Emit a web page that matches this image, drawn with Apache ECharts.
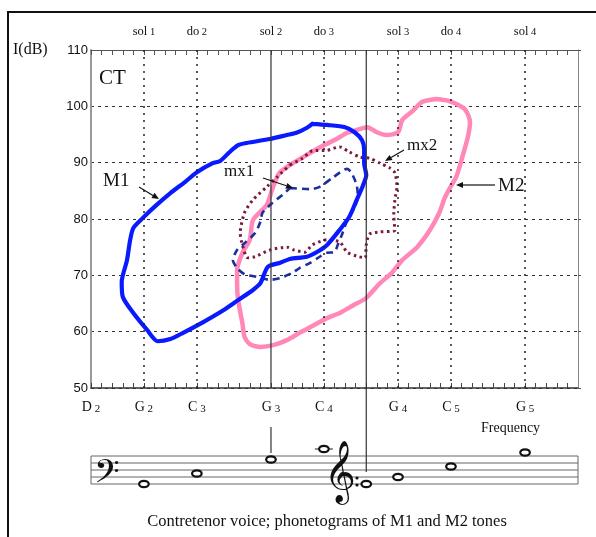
<!DOCTYPE html>
<html><head><meta charset="utf-8">
<script src="https://cdn.jsdelivr.net/npm/echarts@6/dist/echarts.min.js"></script>
<style>html,body{margin:0;padding:0;background:#fff}#c{width:596px;height:537px}</style>
</head><body><div id="c"></div>
<script>
// ---- data (x = semitone number, MIDI: D2=38 ... C6=84; y = intensity dB) ----
const xMin = 38, xMax = 84;
const bottomTickMidi = [38, 43, 48, 55, 60, 67, 72, 79];
const bottomTickNames = [['D','2'],['G','2'],['C','3'],['G','3'],['C','4'],['G','4'],['C','5'],['G','5']];
const topTickMidi = [43, 48, 55, 60, 67, 72, 79];
const topTickNames = [['sol','1'],['do','2'],['sol','2'],['do','3'],['sol','3'],['do','4'],['sol','4']];
const dottedGridMidi = [43, 48, 60, 67, 72, 79];
const solidLineMidi = [55, 64];
const yTicks = [50, 60, 70, 80, 90, 100, 110];

const M1 = [[58.9,96.9],[60.3,96.7],[62.0,96.3],[62.9,95.4],[63.6,94.0],[63.8,92.3],[63.8,89.9],[64.0,87.8],[63.7,86.0],[63.1,83.4],[62.4,80.4],[61.5,78.1],[60.3,75.4],[59.3,74.1],[58.4,73.3],[56.8,72.9],[55.8,72.2],[54.7,71.5],[54.0,68.6],[53.3,67.4],[51.9,65.6],[50.5,63.8],[48.6,61.7],[46.7,59.8],[45.5,58.7],[44.3,58.3],[43.3,60.3],[42.0,63.3],[41.0,66.2],[40.9,68.8],[41.4,72.7],[41.7,76.3],[42.0,78.4],[42.9,80.2],[44.2,82.5],[45.5,84.6],[46.9,86.6],[48.0,88.3],[49.5,89.9],[50.2,90.3],[51.1,91.9],[51.9,93.1],[52.7,93.5],[54.9,94.2],[56.5,94.9],[57.4,95.3],[58.4,96.2],[58.9,96.9]];
const mx1 = [[56.8,85.5],[58.7,85.3],[59.6,85.7],[60.8,87.3],[62.2,88.9],[62.6,88.2],[63.1,86.0],[63.2,83.9],[62.9,82.1],[62.2,79.8],[61.7,77.2],[61.3,75.4],[61.0,74.1],[60.3,74.0],[59.6,73.3],[58.7,72.2],[57.7,71.3],[57.0,70.4],[55.8,69.5],[54.9,69.2],[53.7,69.7],[52.5,70.2],[51.8,71.3],[51.4,72.7],[51.8,74.5],[52.5,75.7],[53.5,77.5],[54.0,79.5],[54.2,81.1],[55.1,82.8],[56.1,84.3],[56.8,85.5]];
const mx2 = [[56.8,89.6],[58.0,90.8],[58.9,92.1],[60.3,92.2],[61.5,92.8],[62.4,91.9],[63.4,91.0],[64.3,90.8],[65.3,89.9],[66.2,89.1],[66.7,88.2],[66.9,85.7],[66.7,83.4],[66.6,80.7],[66.7,78.0],[65.3,77.7],[64.3,77.3],[64.0,75.4],[63.9,73.1],[63.1,73.4],[62.2,74.1],[61.5,75.9],[60.3,76.3],[58.9,75.4],[58.2,74.1],[57.2,74.5],[56.5,75.0],[54.9,74.5],[53.5,73.3],[52.8,73.1],[52.3,75.4],[52.1,77.5],[52.5,81.1],[53.3,83.4],[54.6,85.7],[55.6,87.5],[56.8,89.6]];
const M2 = [[70.6,101.3],[71.9,100.9],[73.3,99.5],[73.8,97.2],[73.6,94.6],[73.0,90.5],[72.5,87.5],[71.9,85.5],[71.4,83.7],[70.9,81.1],[70.0,78.0],[68.8,75.0],[67.4,72.7],[66.4,70.4],[65.3,68.6],[64.0,66.0],[62.7,64.6],[61.5,63.3],[60.3,62.4],[58.9,61.0],[57.7,59.8],[56.5,58.5],[55.2,57.6],[54.0,57.3],[53.0,57.8],[52.5,59.1],[52.3,61.5],[51.9,65.6],[51.8,68.3],[51.8,70.9],[52.3,74.0],[53.0,76.3],[53.3,79.8],[54.6,82.5],[55.2,85.7],[55.8,88.2],[56.8,89.6],[58.4,91.4],[59.9,93.0],[61.2,94.2],[62.2,95.3],[63.1,95.8],[64.1,96.3],[65.0,95.4],[65.9,94.9],[67.0,95.4],[67.4,97.6],[68.4,99.2],[69.3,100.8],[70.6,101.3]];

// staff notes: semitone, diatonic steps above the bottom staff line
const staffNoteMidi = [43, 48, 55, 60, 64, 67, 72, 79];
const staffNoteSteps = [0, 3, 7, 10, 0, 2, 5, 9];

const serif = '"Liberation Serif", "Times New Roman", serif';
const sans = '"Liberation Sans", Arial, sans-serif';

const chart = echarts.init(document.getElementById('c'), null, {renderer: 'canvas'});

function lbl(pair) {
  return '{n|' + pair[0] + '}{s| ' + pair[1] + '}';
}

const option = {
  animation: false,
  backgroundColor: '#fff',
  grid: {left: 91, top: 50, width: 487, height: 338, show: false},
  xAxis: [
    {type: 'value', min: xMin, max: xMax, interval: 1, position: 'bottom',
     axisLine: {lineStyle: {color: '#333', width: 1.5}},
     axisTick: {inside: true, length: 5, lineStyle: {color: '#444', width: 1}},
     splitLine: {show: false},
     axisLabel: {margin: 12, color: '#111', showMaxLabel: false,
       formatter: v => { const i = bottomTickMidi.indexOf(v); return i < 0 ? '' : lbl(bottomTickNames[i]); },
       rich: {n: {fontFamily: serif, fontSize: 14, color: '#111'}, s: {fontFamily: serif, fontSize: 11, color: '#111', padding: [4, 0, 0, 0]}}}},
    {type: 'value', min: xMin, max: xMax, interval: 1, position: 'top',
     axisLine: {lineStyle: {color: '#555', width: 1.2}},
     axisTick: {inside: true, length: 5, lineStyle: {color: '#555', width: 1}},
     splitLine: {show: false},
     axisLabel: {margin: 12, color: '#111', showMaxLabel: false,
       formatter: v => { const i = topTickMidi.indexOf(v); return i < 0 ? '' : lbl(topTickNames[i]); },
       rich: {n: {fontFamily: serif, fontSize: 12.5, color: '#111'}, s: {fontFamily: serif, fontSize: 10.5, color: '#111', padding: [2, 0, 0, 0]}}}}
  ],
  yAxis: [
    {type: 'value', min: 50, max: 110, interval: 10, position: 'left',
     axisLine: {show: true, lineStyle: {color: '#999', width: 2}},
     axisTick: {show: false},
     axisLabel: {margin: 3, color: '#111', fontFamily: sans, fontSize: 13},
     splitLine: {show: true, lineStyle: {color: '#333', width: 1.2, type: [3, 4]}}},
    {type: 'value', min: 50, max: 110, interval: 10, position: 'right',
     axisLine: {show: true, lineStyle: {color: '#888', width: 1}},
     axisTick: {show: true, length: 3, lineStyle: {color: '#555'}},
     axisLabel: {show: false}, splitLine: {show: false}}
  ],
  series: [
    {type: 'line', name: 'grid', data: [], xAxisIndex: 0, yAxisIndex: 0, silent: true,
     markLine: {symbol: 'none', silent: true, label: {show: false},
       lineStyle: {color: '#222', width: 1.5, type: [2, 5]},
       data: dottedGridMidi.map(v => ({xAxis: v}))}},
    {type: 'line', name: 'M2', data: M2, showSymbol: false, smooth: 0.25,
     lineStyle: {color: '#ff88b8', width: 4.5, cap: 'round', join: 'round'}},
    {type: 'line', name: 'mx2', data: mx2, showSymbol: false, smooth: 0.25,
     lineStyle: {color: '#7a1a3e', width: 3, type: [2.5, 3.5]}},
    {type: 'line', name: 'mx1', data: mx1, showSymbol: false, smooth: 0.25,
     lineStyle: {color: '#1b2f9e', width: 2.6, type: [7, 5]}},
    {type: 'line', name: 'M1', data: M1, showSymbol: false, smooth: 0.25,
     lineStyle: {color: '#0a1aff', width: 4.2, cap: 'round', join: 'round'}}
  ]
};
chart.setOption(option);

// ---- annotations and staff, positioned through the chart's own scales ----
const px = v => chart.convertToPixel({xAxisIndex: 0}, v);
const py = v => chart.convertToPixel({yAxisIndex: 0}, v);
const plotTop = py(110), plotBottom = py(50);
const g = [];

// outer frame
g.push({type: 'rect', shape: {x: 8, y: 12, width: 600, height: 540}, style: {fill: null, stroke: '#111', lineWidth: 2}, z: 0});

// solid vertical lines (G3 and E4)
const xG3 = px(solidLineMidi[0]), xE4 = px(solidLineMidi[1]);
g.push({type: 'line', shape: {x1: xG3, y1: plotTop, x2: xG3, y2: plotBottom}, style: {stroke: '#333', lineWidth: 1.2}, z: 5});
g.push({type: 'line', shape: {x1: xG3, y1: 427, x2: xG3, y2: 453}, style: {stroke: '#333', lineWidth: 1.2}, z: 5});
g.push({type: 'line', shape: {x1: xE4, y1: plotTop, x2: xE4, y2: 472}, style: {stroke: '#333', lineWidth: 1.2}, z: 5});

// texts
g.push({type: 'text', style: {text: 'I(dB)', x: 13, y: 50, fontFamily: serif, fontSize: 16, fill: '#111', textVerticalAlign: 'middle'}, z: 5});
g.push({type: 'text', style: {text: 'CT', x: 99, y: 78, fontFamily: serif, fontSize: 21, fill: '#111', textVerticalAlign: 'middle'}, z: 5});
g.push({type: 'text', style: {text: 'M1', x: 103, y: 181, fontFamily: serif, fontSize: 19, fill: '#111', textVerticalAlign: 'middle'}, z: 5});
g.push({type: 'text', style: {text: 'mx1', x: 224, y: 172, fontFamily: serif, fontSize: 17, fill: '#111', textVerticalAlign: 'middle'}, z: 5});
g.push({type: 'text', style: {text: 'mx2', x: 407, y: 146, fontFamily: serif, fontSize: 17, fill: '#111', textVerticalAlign: 'middle'}, z: 5});
g.push({type: 'text', style: {text: 'M2', x: 498, y: 186, fontFamily: serif, fontSize: 19, fill: '#111', textVerticalAlign: 'middle'}, z: 5});
g.push({type: 'text', style: {text: 'Frequency', x: 481, y: 428, fontFamily: serif, fontSize: 14, fill: '#111', textVerticalAlign: 'middle'}, z: 5});
g.push({type: 'text', style: {text: 'Contretenor voice; phonetograms of M1 and M2 tones', x: 327, y: 522, fontFamily: serif, fontSize: 16.5, fill: '#111', textAlign: 'center', textVerticalAlign: 'middle'}, z: 5});

function arrow(x1, y1, x2, y2) {
  const a = Math.atan2(y2 - y1, x2 - x1), L = 7, W = 3;
  const bx = x2 - L * Math.cos(a), by = y2 - L * Math.sin(a);
  g.push({type: 'line', shape: {x1, y1, x2: bx, y2: by}, style: {stroke: '#111', lineWidth: 1.2}, z: 6});
  g.push({type: 'polygon', shape: {points: [[x2, y2], [bx + W * Math.sin(a), by - W * Math.cos(a)], [bx - W * Math.sin(a), by + W * Math.cos(a)]]}, style: {fill: '#111'}, z: 6});
}
arrow(139, 187, 159, 199);
arrow(263, 178, 293, 188);
arrow(404, 150, 385, 161);
arrow(495, 185, 456, 185);

// staff
const staffBottom = 484, lineGap = 7, staffLeft = px(xMin), staffRight = px(xMax);
for (let i = 0; i < 5; i++) {
  const y = staffBottom - i * lineGap;
  g.push({type: 'line', shape: {x1: staffLeft, y1: y, x2: staffRight, y2: y}, style: {stroke: '#666', lineWidth: 1}, z: 4});
}
g.push({type: 'line', shape: {x1: staffLeft, y1: staffBottom - 4 * lineGap, x2: staffLeft, y2: staffBottom}, style: {stroke: '#666', lineWidth: 1}, z: 4});
g.push({type: 'line', shape: {x1: staffRight, y1: staffBottom - 4 * lineGap, x2: staffRight, y2: staffBottom}, style: {stroke: '#666', lineWidth: 1}, z: 4});
// clefs
g.push({type: 'text', style: {text: '\u{1D122}', x: 94, y: 479, fontFamily: '"DejaVu Sans", "Noto Sans", serif', fontSize: 40, fill: '#111', textVerticalAlign: 'middle'}, z: 5});
g.push({type: 'text', style: {text: '\u{1D11E}', x: 324, y: 475, fontFamily: '"DejaVu Sans", "Noto Sans", serif', fontSize: 54, fill: '#111', textVerticalAlign: 'middle'}, z: 5});
g.push({type: 'circle', shape: {cx: 357, cy: 478, r: 1.6}, style: {fill: '#111'}, z: 5});
g.push({type: 'circle', shape: {cx: 357, cy: 485, r: 1.6}, style: {fill: '#111'}, z: 5});
// notes
staffNoteMidi.forEach((m, i) => {
  const x = px(m), y = staffBottom - staffNoteSteps[i] * lineGap / 2;
  if (staffNoteSteps[i] >= 10) {
    g.push({type: 'line', shape: {x1: x - 9, y1: y, x2: x + 9, y2: y}, style: {stroke: '#444', lineWidth: 1.2}, z: 5});
  }
  g.push({type: 'ellipse', shape: {cx: x, cy: y, rx: 4.8, ry: 3.2}, style: {fill: '#fff', stroke: '#111', lineWidth: 2.2}, z: 6});
});

chart.setOption({graphic: g});
</script>
</body></html>
